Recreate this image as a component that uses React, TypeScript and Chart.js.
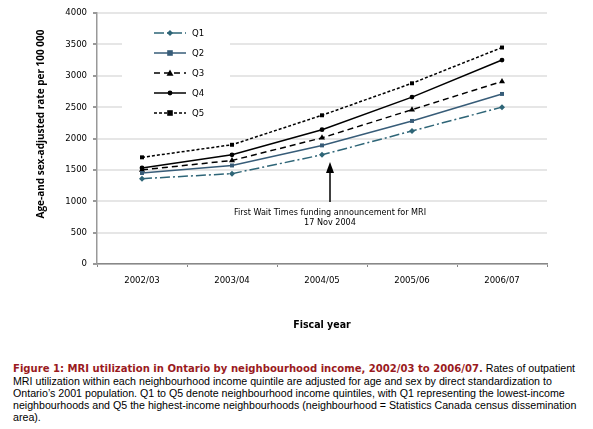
import React, { useEffect, useRef } from "react";
import { Chart, registerables } from "chart.js";

Chart.register(...registerables);

const categories = ["2002/03", "2003/04", "2004/05", "2005/06", "2006/07"];
const q1 = [1360, 1440, 1740, 2120, 2500];
const q2 = [1450, 1570, 1890, 2280, 2710];
const q3 = [1500, 1650, 2010, 2460, 2910];
const q4 = [1530, 1740, 2140, 2660, 3250];
const q5 = [1700, 1900, 2370, 2880, 3450];
const seriesLabels = ["Q1", "Q2", "Q3", "Q4", "Q5"];
const yTitle = "Age-and sex-adjusted rate per 100 000";
const xTitle = "Fiscal year";
const annotationLines = ["First Wait Times funding announcement for MRI", "17 Nov 2004"];
const annotationCategory = "2004/05";

const TICK_FONT = "'DejaVu Sans Condensed', 'DejaVu Sans', sans-serif";

const styles = [
  { color: "#2E6577", dash: [10, 3, 2, 3], shape: "diamond", r: 3 },
  { color: "#375C78", dash: [], shape: "rect", r: 2.8 },
  { color: "#000000", dash: [6, 4], shape: "triangle", r: 3.5 },
  { color: "#000000", dash: [], shape: "circle", r: 2.4 },
  { color: "#000000", dash: [3, 2], shape: "rect", r: 2.8 },
];

function drawMarker(ctx: CanvasRenderingContext2D, shape: string, x: number, y: number, r: number, color: string) {
  ctx.save();
  ctx.setLineDash([]);
  ctx.fillStyle = color;
  ctx.beginPath();
  if (shape === "diamond") {
    ctx.moveTo(x, y - r);
    ctx.lineTo(x + r, y);
    ctx.lineTo(x, y + r);
    ctx.lineTo(x - r, y);
    ctx.closePath();
  } else if (shape === "rect") {
    ctx.rect(x - r, y - r, 2 * r, 2 * r);
  } else if (shape === "triangle") {
    ctx.moveTo(x, y - r);
    ctx.lineTo(x + r, y + r * 0.8);
    ctx.lineTo(x - r, y + r * 0.8);
    ctx.closePath();
  } else {
    ctx.arc(x, y, r, 0, Math.PI * 2);
  }
  ctx.fill();
  ctx.restore();
}

const pointStyleMap: Record<string, string> = {
  diamond: "rectRot",
  rect: "rect",
  triangle: "triangle",
  circle: "circle",
};

const customPlugin = {
  id: "custom",
  beforeDatasetsDraw(chart: any) {
    const ctx = chart.ctx as CanvasRenderingContext2D;
    ctx.save();
    ctx.fillStyle = "#ffffff";
    ctx.fillRect(122, 20, 108, 105);
    ctx.restore();
  },
  afterDatasetsDraw(chart: any) {
    const ctx = chart.ctx as CanvasRenderingContext2D;
    chart.data.datasets.forEach((ds: any, i: number) => {
      const st = styles[i];
      const y = 33 + i * 20;
      ctx.save();
      ctx.strokeStyle = st.color;
      ctx.lineWidth = 1.5;
      ctx.setLineDash(st.dash);
      ctx.beginPath();
      ctx.moveTo(154, y);
      ctx.lineTo(186, y);
      ctx.stroke();
      ctx.restore();
      drawMarker(ctx, st.shape, 170, y, st.r, st.color);
      ctx.save();
      ctx.fillStyle = "#000";
      ctx.font = `9.5px ${TICK_FONT}`;
      ctx.textBaseline = "middle";
      ctx.textAlign = "left";
      ctx.fillText(ds.label, 192, y + 0.5);
      ctx.restore();
    });

    ctx.save();
    ctx.translate(41, 124);
    ctx.rotate(-Math.PI / 2);
    ctx.font = "bold 10px 'Open Sans', sans-serif";
    ctx.fillStyle = "#000";
    ctx.textAlign = "center";
    ctx.textBaseline = "middle";
    ctx.fillText(yTitle, 0, 0);
    ctx.restore();

    const xs = chart.scales.x;
    const ax = xs.getPixelForValue(categories.indexOf(annotationCategory)) + 8;
    const tipY = 162;
    const baseY = 202;
    ctx.save();
    ctx.strokeStyle = "#000";
    ctx.fillStyle = "#000";
    ctx.lineWidth = 1.5;
    ctx.beginPath();
    ctx.moveTo(ax, baseY);
    ctx.lineTo(ax, tipY + 8);
    ctx.stroke();
    ctx.beginPath();
    ctx.moveTo(ax, tipY);
    ctx.lineTo(ax + 4, tipY + 11);
    ctx.lineTo(ax - 4, tipY + 11);
    ctx.closePath();
    ctx.fill();
    ctx.font = `9px ${TICK_FONT}`;
    ctx.textAlign = "center";
    ctx.textBaseline = "middle";
    ctx.fillText(annotationLines[0], ax, 213);
    ctx.fillText(annotationLines[1], ax, 223);
    ctx.restore();
  },
};

export default function App() {
  const ref = useRef<HTMLCanvasElement>(null);

  useEffect(() => {
    if (!ref.current) return;
    const all = [q1, q2, q3, q4, q5];
    const chart = new Chart(ref.current, {
      type: "line",
      data: {
        labels: categories,
        datasets: all.map((d, i) => ({
          label: seriesLabels[i],
          data: d,
          borderColor: styles[i].color,
          backgroundColor: styles[i].color,
          borderWidth: 1.5,
          borderDash: styles[i].dash,
          pointStyle: pointStyleMap[styles[i].shape] as any,
          pointRadius: styles[i].r,
          pointBorderWidth: 0,
          tension: 0,
          fill: false,
        })),
      },
      options: {
        responsive: false,
        animation: false,
        layout: { padding: { left: 0, top: 13, right: 46, bottom: 0 } },
        plugins: {
          legend: { display: false },
          tooltip: { enabled: false },
        },
        scales: {
          x: {
            offset: true,
            grid: {
              offset: true,
              drawOnChartArea: false,
              drawTicks: true,
              tickLength: 3,
              tickColor: "#888",
            },
            border: { color: "#888", width: 1.5 },
            ticks: {
              color: "#000",
              font: { family: TICK_FONT, size: 9.5 },
              padding: 8,
              maxRotation: 0,
            },
            title: {
              display: true,
              text: xTitle,
              color: "#000",
              font: { family: TICK_FONT, size: 10.5, weight: "bold" },
              padding: { top: 0, bottom: 8 },
            },
            afterFit: (s: any) => {
              s.height = 76;
            },
          },
          y: {
            min: 0,
            max: 4000,
            ticks: {
              stepSize: 500,
              color: "#000",
              font: { family: TICK_FONT, size: 9.5 },
              padding: 6,
              callback: (v: any) => String(v),
            },
            grid: {
              color: "#e6e6e6",
              lineWidth: 2,
              tickColor: "#999",
              tickLength: 4,
            },
            border: { color: "#999", width: 1.5 },
            afterFit: (s: any) => {
              s.width = 97;
            },
          },
        },
      },
      plugins: [customPlugin],
    });
    return () => chart.destroy();
  }, []);

  const body: React.CSSProperties = {
    fontFamily: "'Liberation Sans', Arial, sans-serif",
    fontSize: "10.65px",
    lineHeight: "12px",
    color: "#000",
    whiteSpace: "nowrap",
  };

  return (
    <div style={{ position: "absolute", left: 0, top: 0, width: 593, height: 429, background: "#fff" }}>
      <canvas ref={ref} width={593} height={340} style={{ display: "block", width: 593, height: 340 }} />
      <div style={{ position: "absolute", left: 13, top: 362, ...body }}>
        <span
          style={{
            color: "#9A1B1E",
            fontWeight: "bold",
            fontFamily: "'DejaVu Sans Condensed', 'DejaVu Sans', sans-serif",
            fontSize: "11.2px",
          }}
        >
          Figure 1: MRI utilization in Ontario by neighbourhood income, 2002/03 to 2006/07.
        </span>{" "}
        Rates of outpatient
        <br />
        MRI utilization within each neighbourhood income quintile are adjusted for age and sex by direct standardization to
        <br />
        Ontario’s 2001 population. Q1 to Q5 denote neighbourhood income quintiles, with Q1 representing the lowest-income
        <br />
        neighbourhoods and Q5 the highest-income neighbourhoods (neighbourhood = Statistics Canada census dissemination
        <br />
        area).
      </div>
    </div>
  );
}
